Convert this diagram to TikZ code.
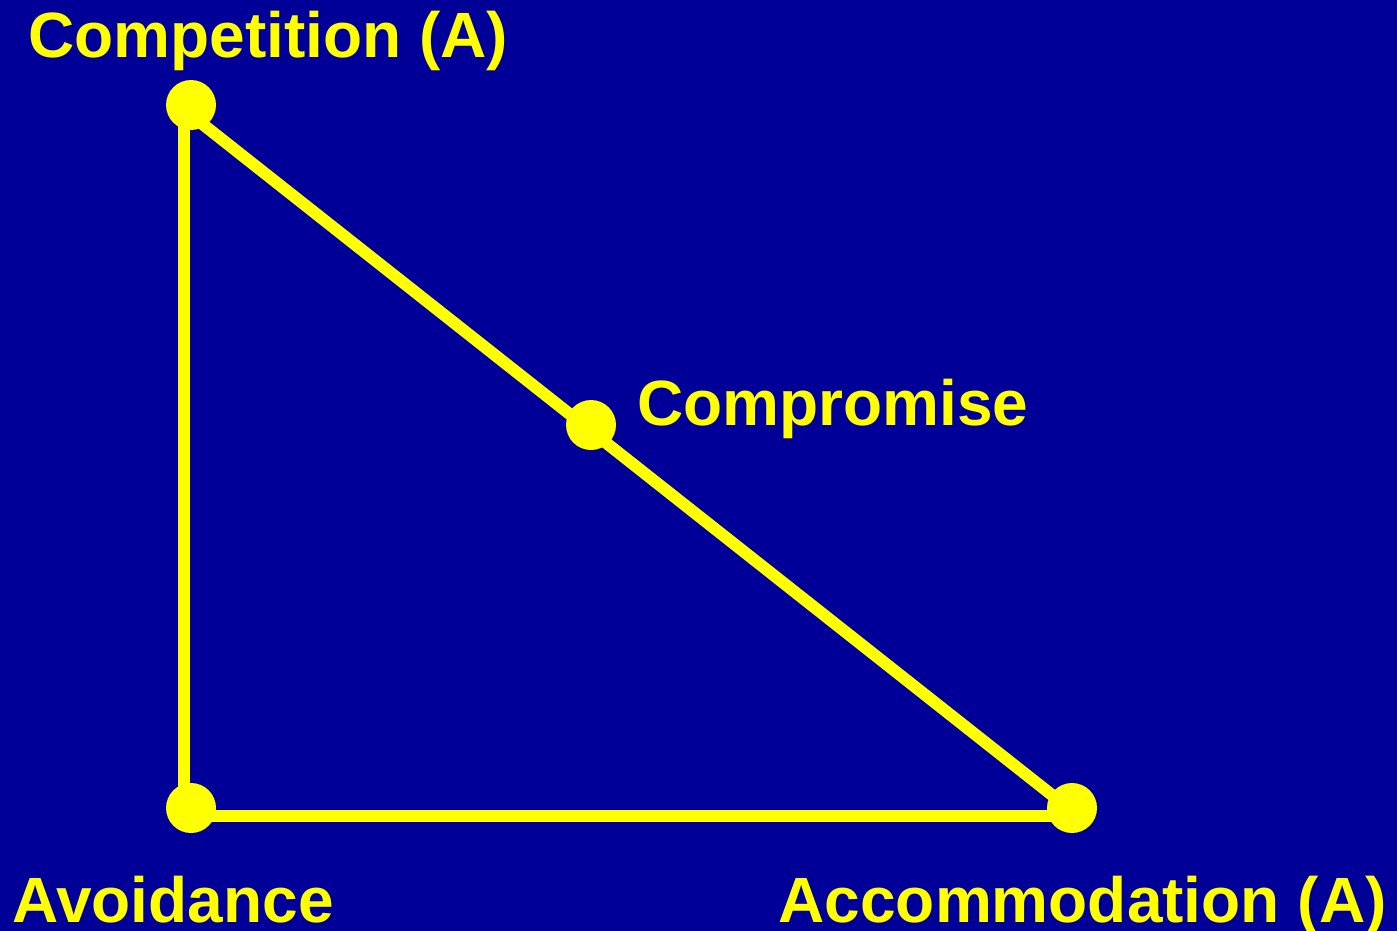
\documentclass[tikz,border=0pt]{standalone}
\usepackage{fontspec}
\setmainfont{Liberation Sans}
\definecolor{bg}{HTML}{000099}
\definecolor{yel}{HTML}{FFFF00}
\begin{document}
\begin{tikzpicture}[x=0.5pt,y=-0.5pt,
  dot/.style={circle,fill=yel,minimum size=25pt,inner sep=0pt},
  lbl/.style={text=yel,font=\fontsize{32pt}{36pt}\selectfont\bfseries,inner sep=0pt},
  edge/.style={draw=yel,line width=6pt}]
\fill[bg] (0,0) rectangle (1397,931);
\useasboundingbox (0,0) rectangle (1397,931);
\coordinate (tl) at (184,105);
\coordinate (bl) at (184,816);
\coordinate (br) at (1072,816);
\coordinate (dtop) at (191,115);
\coordinate (dbot) at (1076,814);
\draw[edge] (tl) -- (bl) -- (br);
\draw[edge] (dtop) -- (dbot);
\node[dot] (comp) at (191,105) {};
\node[dot] (avoid) at (191,808) {};
\node[dot] (accom) at (1072,808) {};
\node[dot] (compr) at (591,425) {};
\node[lbl,anchor=base west] (tcomp) at (28,58) {Competition (A)};
\node[lbl,anchor=base west] (tcompr) at (637,425) {Compromise};
\node[lbl,anchor=base west] (tavoid) at (12,922) {Avoidance};
\node[lbl,anchor=base east] (taccom) at (1387,922) {Accommodation (A)};
\end{tikzpicture}
\end{document}
